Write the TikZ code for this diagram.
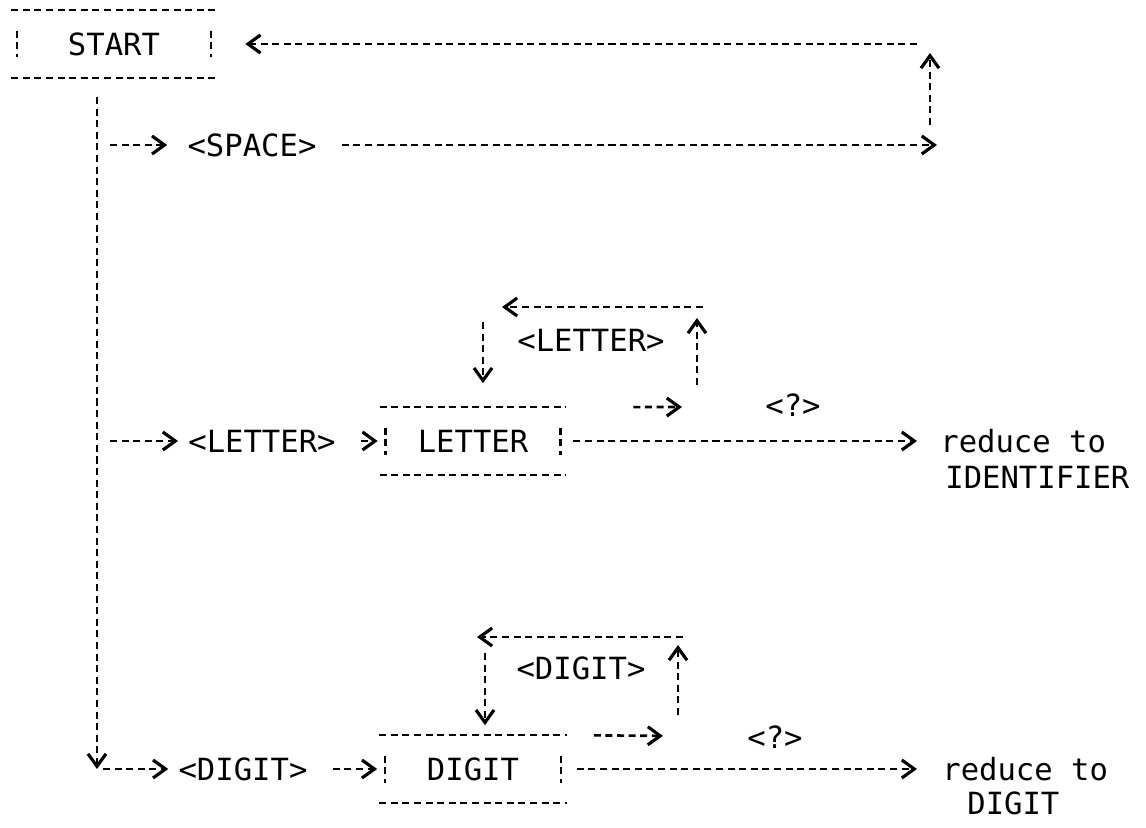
\documentclass[tikz,border=0pt]{standalone}
\usepackage{fontspec}
\newfontfamily\dotfont{DejaVu Sans Mono}
\usetikzlibrary{arrows.meta}

\begin{document}
\begin{tikzpicture}[x=0.02cm, y=-0.02cm,
    txt/.style={font=\dotfont\fontsize{17.4}{20}\selectfont, inner sep=0pt},
    state/.style={txt, minimum height=1.34cm},
    dl/.style={line width=1.5pt, dash pattern=on 4pt off 2.6pt},
    arr/.style={dl, -{Straight Barb[length=0.25cm,width=0.36cm,line width=1.8pt]}}
  ]
  \useasboundingbox[fill=white] (0,0) rectangle (1146,828);

  % States
  \node[state, minimum width=4.1cm]  (start)  at (114,44)  {START};
  \node[state, minimum width=3.72cm] (letter) at (473,441) {LETTER};
  \node[state, minimum width=3.74cm] (digit)  at (473,769) {DIGIT};
  \foreach \b in {start,letter,digit} {
    \draw[dl] (\b.north west) -- (\b.north east);
    \draw[dl] (\b.south west) -- (\b.south east);
    \draw[dl] ([xshift=0.12cm,yshift=0.27cm]\b.west) -- ([xshift=0.12cm,yshift=-0.27cm]\b.west);
    \draw[dl] ([xshift=-0.12cm,yshift=0.27cm]\b.east) -- ([xshift=-0.12cm,yshift=-0.27cm]\b.east);
  }

  % Input symbols and results
  \node[txt] (space)      at (252,145) {<SPACE>};
  \node[txt] (lettersym)  at (262,441) {<LETTER>};
  \node[txt] (digitsym)   at (243,769) {<DIGIT>};
  \node[txt] (letterloop) at (591,340) {<LETTER>};
  \node[txt] (digitloop)  at (581,668) {<DIGIT>};
  \node[txt] (q1) at (793,405) {<?>};
  \node[txt] (q2) at (775,737) {<?>};
  \node[txt, anchor=west] (red1)   at (940,441) {reduce to};
  \node[txt, anchor=west] (ident)  at (945,477) {IDENTIFIER};
  \node[txt, anchor=west] (red2)   at (942,769) {reduce to};
  \node[txt, anchor=west] (digres) at (967,803) {DIGIT};

  % Corners
  \coordinate (trunktop) at (97,97);
  \coordinate (trunkbot) at (97,769);
  \coordinate (sploopb) at (930,145);
  \coordinate (sploopt) at (930,44);
  \coordinate (lbr) at (697,407);
  \coordinate (ltr) at (697,307);
  \coordinate (ltl) at (483,307);
  \coordinate (dbr) at (678,736);
  \coordinate (dtr) at (678,637);
  \coordinate (dtl) at (485,637);

  % Trunk and branches
  \draw[arr] (trunktop) -- (trunkbot);
  \draw[arr, shorten <=0.26cm, shorten >=0.4cm] (trunktop |- space) -- (space.west);
  \draw[arr, shorten <=0.26cm, shorten >=0.2cm] (trunktop |- lettersym) -- (lettersym.west);
  \draw[arr, shorten <=0.12cm, shorten >=0.2cm] (trunkbot) -- (digitsym.west);
  \draw[arr, shorten <=0.5cm, shorten >=0.04cm] (lettersym.east) -- (letter.west);
  \draw[arr, shorten <=0.5cm, shorten >=0.04cm] (digitsym.east) -- (digit.west);

  % Space goes back to start
  \draw[arr, shorten <=0.5cm, shorten >=-0.14cm] (space.east) -- (sploopb);
  \draw[arr, shorten <=0.4cm, shorten >=0.18cm] (sploopb) -- (sploopt);
  \draw[arr, shorten <=0.26cm, shorten >=0.57cm] (sploopt) -- (start.east);

  % Letter loop
  \draw[arr, shorten <=1.34cm, shorten >=0.3cm] (letter.north east) -- (lbr);
  \draw[arr, shorten <=0.44cm, shorten >=0.22cm] (lbr) -- (ltr);
  \draw[arr, shorten <=-0.12cm, shorten >=0.38cm] (ltr) -- (ltl);
  \draw[arr, shorten <=0.3cm, shorten >=0.48cm] (ltl) -- (ltl |- letter.north);

  % Digit loop
  \draw[arr, shorten <=0.54cm, shorten >=0.3cm] (digit.north east) -- (dbr);
  \draw[arr, shorten <=0.42cm, shorten >=0.16cm] (dbr) -- (dtr);
  \draw[arr, shorten <=-0.1cm, shorten >=-0.16cm] (dtr) -- (dtl);
  \draw[arr, shorten <=0.32cm, shorten >=0.2cm] (dtl) -- (dtl |- digit.north);

  % Exits
  \draw[arr, shorten <=0.14cm, shorten >=0.46cm] (letter.east) -- (red1.west);
  \draw[arr, shorten <=0.2cm, shorten >=0.5cm] (digit.east) -- (red2.west);
\end{tikzpicture}
\end{document}
